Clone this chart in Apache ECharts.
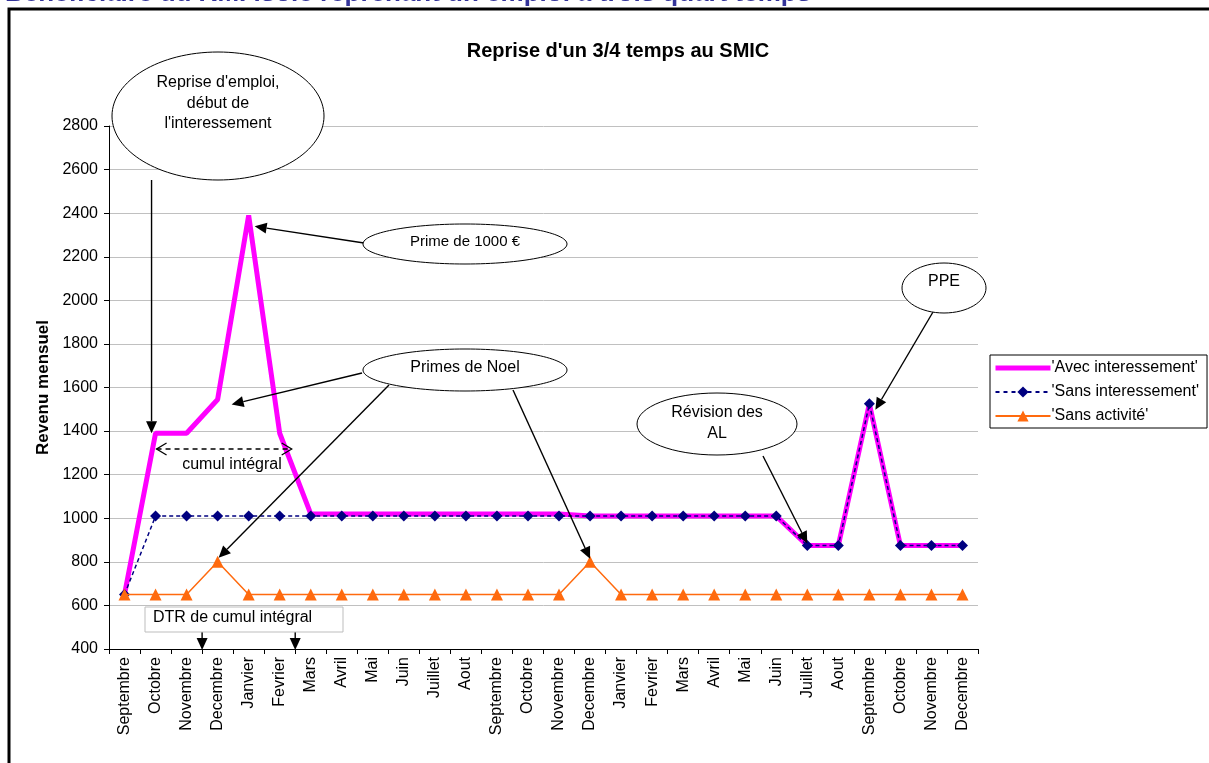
<!DOCTYPE html>
<html>
<head>
<meta charset="utf-8">
<script src="https://cdn.jsdelivr.net/npm/echarts@6/dist/echarts.min.js"></script>
<style>
  html, body { margin: 0; padding: 0; background: #fff; }
  #chart { width: 1209px; height: 763px; }
</style>
</head>
<body>
<div id="chart"></div>
<script>
// mois (28 points)
const months = ['Septembre', 'Octobre', 'Novembre', 'Decembre', 'Janvier', 'Fevrier', 'Mars', 'Avril', 'Mai', 'Juin',
  'Juillet', 'Aout', 'Septembre', 'Octobre', 'Novembre', 'Decembre', 'Janvier', 'Fevrier', 'Mars', 'Avril', 'Mai',
  'Juin', 'Juillet', 'Aout', 'Septembre', 'Octobre', 'Novembre', 'Decembre'];

const avecInteressement = [650, 1390, 1390, 1545, 2390, 1390, 1020, 1020, 1020, 1020, 1020, 1020, 1020, 1020, 1020,
  1010, 1010, 1010, 1010, 1010, 1010, 1010, 875, 875, 1525, 875, 875, 875];
const sansInteressement = [650, 1010, 1010, 1010, 1010, 1010, 1010, 1010, 1010, 1010, 1010, 1010, 1010, 1010, 1010,
  1010, 1010, 1010, 1010, 1010, 1010, 1010, 875, 875, 1525, 875, 875, 875];
const sansActivite = [650, 650, 650, 800, 650, 650, 650, 650, 650, 650, 650, 650, 650, 650, 650,
  800, 650, 650, 650, 650, 650, 650, 650, 650, 650, 650, 650, 650];

const seriesNames = ["'Avec interessement'", "'Sans interessement'", "'Sans activité'"];

const font = 'Liberation Sans, Arial, sans-serif';
const chart = echarts.init(document.getElementById('chart'));

chart.setOption({
  backgroundColor: '#ffffff',
  animation: false,
  textStyle: { fontFamily: font },
  title: {
    text: "Reprise d'un 3/4 temps au SMIC",
    left: 613,
    textAlign: 'center',
    top: 36,
    textStyle: { fontSize: 20, fontWeight: 'bold', color: '#000', fontFamily: font }
  },
  legend: {
    orient: 'vertical',
    left: 990,
    top: 355,
    width: 219,
    padding: [5, 8, 4, 3],
    itemGap: 8,
    itemWidth: 55,
    itemHeight: 14,
    borderColor: '#000',
    borderWidth: 1,
    backgroundColor: '#fff',
    selectedMode: false,
    textStyle: { fontSize: 16, lineHeight: 14, color: '#000', fontFamily: font, padding: [0, 0, 0, -4] },
    data: [
      { name: seriesNames[0], itemStyle: { color: 'rgba(0,0,0,0)', borderWidth: 0 }, lineStyle: { width: 5, color: '#ff00ff' } },
      { name: seriesNames[1], lineStyle: { width: 2, color: '#000080', type: [4, 4] } },
      { name: seriesNames[2], lineStyle: { width: 2, color: '#ff6a0e' } }
    ]
  },
  grid: { left: 109, right: 231, top: 126, bottom: 114, containLabel: false },
  xAxis: {
    type: 'category',
    data: months,
    boundaryGap: true,
    axisLine: { lineStyle: { color: '#000', width: 1 } },
    axisTick: { show: true, length: 5, lineStyle: { color: '#000' } },
    axisLabel: { rotate: 90, interval: 0, fontSize: 16, color: '#000', margin: 8, fontFamily: font }
  },
  yAxis: {
    type: 'value',
    min: 400,
    max: 2800,
    interval: 200,
    name: 'Revenu mensuel',
    nameLocation: 'middle',
    nameGap: 55,
    nameTextStyle: { fontSize: 17, fontWeight: 'bold', color: '#000', fontFamily: font },
    axisLine: { show: true, lineStyle: { color: '#000', width: 1 } },
    axisTick: { show: true, length: 5, lineStyle: { color: '#000' } },
    axisLabel: { fontSize: 16, color: '#000', margin: 11, fontFamily: font, formatter: v => String(v) },
    splitLine: { lineStyle: { color: '#c0c0c0', width: 1 } }
  },
  series: [
    {
      name: seriesNames[0],
      type: 'line',
      data: avecInteressement,
      symbol: 'none',
      lineStyle: { color: '#ff00ff', width: 5 },
      itemStyle: { color: '#ff00ff' },
      z: 2
    },
    {
      name: seriesNames[1],
      type: 'line',
      data: sansInteressement,
      symbol: 'diamond',
      symbolSize: 11,
      showAllSymbol: true,
      lineStyle: { color: '#000080', width: 1.5, type: [4, 3] },
      itemStyle: { color: '#000080' },
      z: 3
    },
    {
      name: seriesNames[2],
      type: 'line',
      data: sansActivite,
      symbol: 'triangle',
      symbolSize: 12,
      showAllSymbol: true,
      lineStyle: { color: '#ff6a0e', width: 1.5 },
      itemStyle: { color: '#ff6a0e' },
      z: 4
    }
  ]
});

// --- annotations ---
function px(i, v) {
  return chart.convertToPixel({ xAxisIndex: 0, yAxisIndex: 0 }, [i, v]);
}

function arrow(x1, y1, x2, y2) {
  const ang = Math.atan2(y2 - y1, x2 - x1);
  const len = 12, hw = 5.5;
  const bx = x2 - len * Math.cos(ang), by = y2 - len * Math.sin(ang);
  const nx = -Math.sin(ang) * hw, ny = Math.cos(ang) * hw;
  return [
    { type: 'line', shape: { x1: x1, y1: y1, x2: bx, y2: by }, style: { stroke: '#000', lineWidth: 1.4 }, z: 50 },
    { type: 'polygon', shape: { points: [[x2, y2], [bx + nx, by + ny], [bx - nx, by - ny]] }, style: { fill: '#000' }, z: 50 }
  ];
}

function bubble(cx, cy, rx, ry) {
  return {
    type: 'ellipse', shape: { cx: cx, cy: cy, rx: rx, ry: ry },
    style: { fill: '#fff', stroke: '#000', lineWidth: 1 }, z: 60
  };
}

function label(x, y, text, size, align) {
  return {
    type: 'text', x: x, y: y, z: 70,
    style: { text: text, font: (size || 16) + 'px ' + font, fill: '#000', align: align || 'center', verticalAlign: 'middle' }
  };
}

const pOct = px(1, avecInteressement[1]);
const pJan = px(4, avecInteressement[4]);
const pDec = px(3, avecInteressement[3]);
const pDecA = px(3, sansActivite[3]);
const pDecB = px(15, sansActivite[15]);
const pJuil = px(22, sansInteressement[22]);
const pSep = px(24, sansInteressement[24]);
const pFev = px(5, avecInteressement[5]);

let g = [];
// cadre + titre de page
g.push({ type: 'rect', shape: { x: 9, y: 9, width: 1220, height: 780 }, style: { fill: 'none', stroke: '#000', lineWidth: 3 }, z: 1 });
g.push({
  type: 'text', x: 5, y: -6, z: 80,
  style: { text: 'Bénéficiaire du RMI isolé reprenant un emploi à trois quart temps', font: 'bold 26px ' + font, fill: '#333399', align: 'left', verticalAlign: 'middle' }
});

// arrows first (under bubbles)
g = g.concat(arrow(pOct[0] - 4, 180, pOct[0] - 4, pOct[1]));
g = g.concat(arrow(364, 243, pJan[0] + 6, pJan[1] + 11));
g = g.concat(arrow(362, 373, pDec[0] + 14, pDec[1] + 5));
g = g.concat(arrow(389, 385, pDecA[0] + 1, pDecA[1] - 4));
g = g.concat(arrow(513, 390, pDecB[0], pDecB[1] - 3));
g = g.concat(arrow(763, 456, pJuil[0], pJuil[1] - 2));
g = g.concat(arrow(933, 312, pSep[0] + 6, pSep[1] + 6));

g.push(bubble(218, 116, 106, 64));
g.push(label(218, 83, "Reprise d'emploi,"));
g.push(label(218, 104, 'début de'));
g.push(label(218, 124, "l'interessement"));

g.push(bubble(465, 244, 102, 20));
g.push(label(465, 242, 'Prime de 1000 €', 15));

g.push(bubble(465, 370, 102, 21));
g.push(label(465, 368, 'Primes de Noel'));

g.push(bubble(717, 424, 80, 31));
g.push(label(717, 413, 'Révision des'));
g.push(label(717, 434, 'AL'));

g.push(bubble(944, 288, 42, 25));
g.push(label(944, 282, 'PPE'));

// cumul intégral : flèche double pointillée
const cy = 449, cx1 = pOct[0] + 1, cx2 = pFev[0] + 12;
g.push({ type: 'line', shape: { x1: cx1, y1: cy, x2: cx2, y2: cy }, style: { stroke: '#000', lineWidth: 1.3, lineDash: [5, 4] }, z: 50 });
g.push({ type: 'polyline', shape: { points: [[cx1 + 10, cy - 6], [cx1, cy], [cx1 + 10, cy + 6]] }, style: { stroke: '#000', lineWidth: 1.3, fill: null }, z: 50 });
g.push({ type: 'polyline', shape: { points: [[cx2 - 10, cy - 6], [cx2, cy], [cx2 - 10, cy + 6]] }, style: { stroke: '#000', lineWidth: 1.3, fill: null }, z: 50 });
g.push(label(232, 465, 'cumul intégral'));

// DTR box
g.push({ type: 'rect', shape: { x: 145, y: 607, width: 198, height: 25 }, style: { fill: '#fff', stroke: '#bdbdbd', lineWidth: 1 }, z: 55 });
g.push(label(153, 618, 'DTR de cumul intégral', 16, 'left'));
const t1 = (px(2, 400)[0] + px(3, 400)[0]) / 2;
const t2 = (px(5, 400)[0] + px(6, 400)[0]) / 2;
g = g.concat(arrow(t1, 632, t1, 650));
g = g.concat(arrow(t2, 632, t2, 650));

chart.setOption({ graphic: { elements: g } });
</script>
</body>
</html>
